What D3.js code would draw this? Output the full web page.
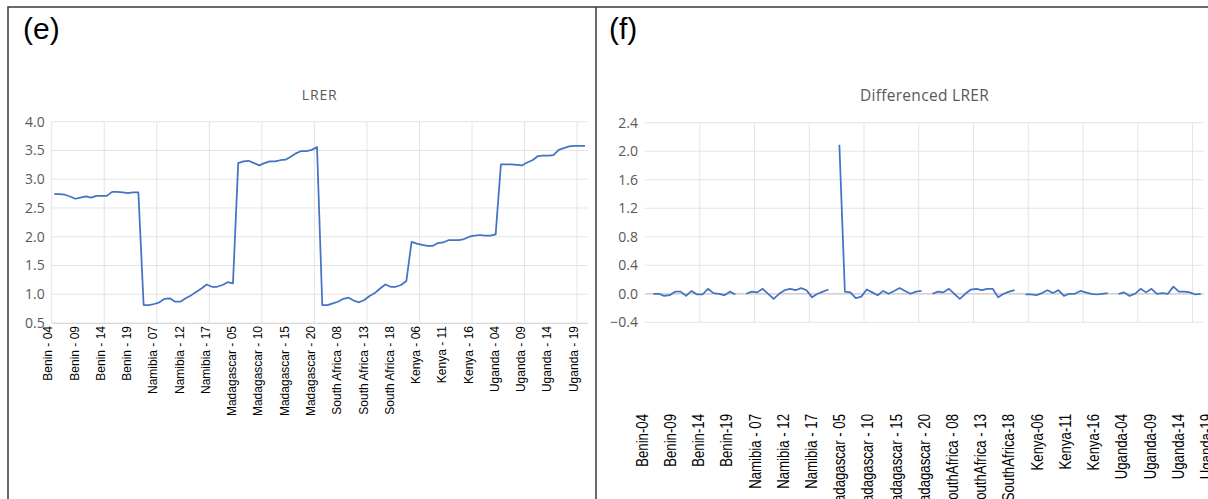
<!DOCTYPE html>
<html lang="en">
<head>
<meta charset="utf-8">
<title>LRER and Differenced LRER</title>
<script src="https://d3js.org/d3.v7.min.js"></script>
<style>
* { margin: 0; padding: 0; }
body { background: #fff; font-family: 'Open Sans', sans-serif; }
</style>
</head>
<body>
<script>
let w = 1208;
let h = 499;

// countries on the category axis and the years each one covers
let countries = ["Benin", "Namibia", "Madagascar", "South Africa", "Kenya", "Uganda"];
let firstYear = [2004, 2004, 2005, 2004, 2004, 2004];
let lastYear  = [2020, 2021, 2020, 2020, 2020, 2020];

// log real exchange rate, one value per year
let beninLRER      = [2.74, 2.74, 2.73, 2.70, 2.66, 2.68, 2.70, 2.68, 2.71, 2.71, 2.71, 2.78, 2.78, 2.77, 2.76, 2.77, 2.77];
let namibiaLRER    = [0.81, 0.81, 0.83, 0.86, 0.92, 0.93, 0.87, 0.87, 0.93, 0.98, 1.04, 1.10, 1.17, 1.13, 1.13, 1.16, 1.21, 1.19];
let madagascarLRER = [3.28, 3.31, 3.32, 3.28, 3.24, 3.28, 3.31, 3.31, 3.33, 3.34, 3.39, 3.45, 3.49, 3.49, 3.51, 3.56];
let southAfricaLRER = [0.81, 0.81, 0.84, 0.87, 0.92, 0.94, 0.89, 0.86, 0.90, 0.97, 1.02, 1.10, 1.17, 1.13, 1.13, 1.16, 1.23];
let kenyaLRER      = [1.91, 1.88, 1.86, 1.84, 1.84, 1.89, 1.90, 1.94, 1.94, 1.94, 1.96, 2.00, 2.02, 2.03, 2.02, 2.02, 2.04];
let ugandaLRER     = [3.26, 3.26, 3.26, 3.25, 3.24, 3.29, 3.33, 3.40, 3.41, 3.41, 3.42, 3.51, 3.54, 3.57, 3.58, 3.58, 3.58];

// differenced series (null = no value plotted)
let beninDiff      = [null, 0.00, 0.00, -0.03, -0.02, 0.03, 0.03, -0.03, 0.04, -0.01, -0.01, 0.07, 0.01, 0.00, -0.02, 0.03, -0.01];
let namibiaDiff    = [null, 0.00, 0.03, 0.02, 0.07, 0.00, -0.07, 0.00, 0.05, 0.07, 0.05, 0.08, 0.05, -0.05, 0.00, 0.03, 0.06, null];
let madagascarDiff = [2.09, 0.03, 0.02, -0.06, -0.04, 0.06, 0.02, -0.02, 0.04, 0.00, 0.04, 0.08, 0.04, 0.00, 0.03, 0.04];
let southAfricaDiff = [null, 0.00, 0.03, 0.02, 0.07, 0.00, -0.07, 0.00, 0.06, 0.07, 0.05, 0.07, 0.07, -0.05, 0.00, 0.03, 0.05];
let kenyaDiff      = [null, -0.01, -0.01, -0.02, 0.01, 0.05, 0.01, 0.05, -0.03, 0.00, 0.00, 0.04, 0.02, 0.00, -0.01, 0.00, 0.01];
let ugandaDiff     = [null, 0.00, 0.02, -0.03, 0.00, 0.07, 0.02, 0.07, 0.00, 0.01, 0.00, 0.10, 0.03, 0.03, 0.02, -0.01, 0.00];

// tick labels (every 5th category)
let lrerTickLabels = ["Benin - 04", "Benin - 09", "Benin - 14", "Benin - 19",
  "Namibia - 07", "Namibia - 12", "Namibia - 17",
  "Madagascar - 05", "Madagascar - 10", "Madagascar - 15", "Madagascar - 20",
  "South Africa - 08", "South Africa - 13", "South Africa - 18",
  "Kenya - 06", "Kenya - 11", "Kenya - 16",
  "Uganda - 04", "Uganda - 09", "Uganda - 14", "Uganda - 19"];
let diffTickLabels = ["Benin-04", "Benin-09", "Benin-14", "Benin-19",
  "Namibia - 07", "Namibia - 12", "Namibia - 17",
  "Madagascar - 05", "Madagascar - 10", "Madagascar - 15", "Madagascar - 20",
  "SouthAfrica - 08", "SouthAfrica - 13", "SouthAfrica-18",
  "Kenya-06", "Kenya-11", "Kenya-16",
  "Uganda-04", "Uganda-09", "Uganda-14", "Uganda-19"];
let lrerTicks = [0.5, 1.0, 1.5, 2.0, 2.5, 3.0, 3.5, 4.0];
let diffTicks = [-0.4, 0.0, 0.4, 0.8, 1.2, 1.6, 2.0, 2.4];

// build the category list and join the series onto it
let lrerByCountry = [beninLRER, namibiaLRER, madagascarLRER, southAfricaLRER, kenyaLRER, ugandaLRER];
let diffByCountry = [beninDiff, namibiaDiff, madagascarDiff, southAfricaDiff, kenyaDiff, ugandaDiff];
let categories = [];
let lrerData = [];
let diffData = [];
countries.forEach((c, ci) => {
  for (let yr = firstYear[ci]; yr <= lastYear[ci]; yr++) {
    let k = yr - firstYear[ci];
    let cat = c + "-" + yr;
    categories.push(cat);
    lrerData.push({cat: cat, v: lrerByCountry[ci][k]});
    diffData.push({cat: cat, v: diffByCountry[ci][k]});
  }
});
let tickCats = categories.filter((d, i) => i % 5 == 0);
let gridCats = categories.filter((d, i) => i % 10 == 0);

let svg = d3.select("body").append("svg")
  .attr("width", w)
  .attr("height", h);

// panel frame
svg.append("path")
  .attr("d", "M8," + h + "V7H" + w + "M596,7V" + h)
  .attr("fill", "none")
  .attr("stroke", "#3a3a3a")
  .attr("stroke-width", 1.5);

svg.append("text").text("(e)").attr("x", 23).attr("y", 39)
  .attr("font-family", "'Liberation Sans', Arial, sans-serif").attr("font-size", 30).attr("fill", "#000");
svg.append("text").text("(f)").attr("x", 609).attr("y", 39)
  .attr("font-family", "'Liberation Sans', Arial, sans-serif").attr("font-size", 30).attr("fill", "#000");

let lineColor = "#4472c4";
let gridColor = "#e4e4e4";

// ---------- (e) LRER ----------
let x1 = d3.scaleBand().domain(categories).range([51.7, 587.6]);
let y1 = d3.scaleLinear().domain([0.5, 4]).range([323, 121.7]);

svg.append("text").text("LRER")
  .attr("x", (x1.range()[0] + x1.range()[1]) / 2).attr("y", 100)
  .attr("text-anchor", "middle").attr("font-size", 14).attr("letter-spacing", 0.8)
  .attr("fill", "#595959");

let g1 = svg.append("g");
g1.selectAll(".hgrid").data(lrerTicks).enter().append("line")
  .attr("x1", x1.range()[0]).attr("x2", x1.range()[1])
  .attr("y1", d => y1(d)).attr("y2", d => y1(d))
  .attr("stroke", gridColor);
g1.selectAll(".vgrid").data(gridCats).enter().append("line")
  .attr("x1", d => x1(d)).attr("x2", d => x1(d))
  .attr("y1", y1(4)).attr("y2", y1(0.5))
  .attr("stroke", gridColor);

g1.append("g")
  .call(d3.axisLeft(y1).tickValues(lrerTicks).tickFormat(d3.format(".1f")).tickSize(0).tickPadding(7))
  .attr("transform", "translate(" + x1.range()[0] + ",0)")
  .call(g => g.select(".domain").remove())
  .call(g => g.selectAll("text").attr("font-family", "'Open Sans', sans-serif")
    .attr("font-size", 14).attr("fill", "#595959"));

g1.append("g")
  .attr("transform", "translate(0," + y1(0.5) + ")")
  .call(d3.axisBottom(x1).tickValues(tickCats).tickFormat((d, i) => lrerTickLabels[i]).tickSize(0))
  .call(g => g.select(".domain").attr("stroke", "#d9d9d9"))
  .call(g => g.selectAll("text")
    .attr("transform", "rotate(-90)")
    .attr("text-anchor", "end")
    .attr("x", -3).attr("y", -2).attr("dy", null)
    .attr("font-family", "'Liberation Sans', Arial, sans-serif")
    .attr("font-size", 12).attr("fill", "#000"));

let line1 = d3.line()
  .x(d => x1(d.cat) + x1.bandwidth() / 2)
  .y(d => y1(d.v));
g1.append("path").datum(lrerData)
  .attr("d", line1)
  .attr("fill", "none")
  .attr("stroke", lineColor)
  .attr("stroke-width", 1.75)
  .attr("stroke-linejoin", "round");

// ---------- (f) Differenced LRER ----------
let x2 = d3.scaleBand().domain(categories).range([645, 1203.5]);
let y2 = d3.scaleLinear().domain([-0.4, 2.4]).range([322.3, 122.7]);
// the category labels of this panel sit on their own spacing
let labelScale = d3.scaleLinear().domain([0, categories.length - 2]).range([641.7, 1206]);

svg.append("text").text("Differenced LRER")
  .attr("x", 924.5).attr("y", 101)
  .attr("text-anchor", "middle").attr("font-size", 15.5).attr("letter-spacing", 0.3)
  .attr("fill", "#595959");

let g2 = svg.append("g");
g2.selectAll(".hgrid").data(diffTicks).enter().append("line")
  .attr("x1", x2.range()[0]).attr("x2", x2.range()[1])
  .attr("y1", d => y2(d)).attr("y2", d => y2(d))
  .attr("stroke", d => d == 0 ? "#c4c4c4" : gridColor)
  .attr("stroke-width", d => d == 0 ? 1.3 : 1);
g2.selectAll(".vgrid").data(gridCats.slice(1)).enter().append("line")
  .attr("x1", d => x2(d)).attr("x2", d => x2(d))
  .attr("y1", y2(2.4)).attr("y2", y2(-0.4))
  .attr("stroke", gridColor);

g2.append("g")
  .call(d3.axisLeft(y2).tickValues(diffTicks).tickFormat(d3.format(".1f")).tickSize(0).tickPadding(7))
  .attr("transform", "translate(" + x2.range()[0] + ",0)")
  .call(g => g.select(".domain").remove())
  .call(g => g.selectAll("text").attr("font-family", "'Open Sans', sans-serif")
    .attr("font-size", 14).attr("fill", "#595959"));

// narrow, tall labels: squeeze the text along its own direction
g2.append("g")
  .attr("transform", "translate(0,414)")
  .call(d3.axisBottom(labelScale).tickValues(d3.range(0, categories.length - 1, 5))
    .tickFormat((d, i) => diffTickLabels[i]).tickSize(0))
  .call(g => g.select(".domain").remove())
  .call(g => g.selectAll("text")
    .attr("transform", "rotate(-90) scale(0.8,1)")
    .attr("text-anchor", "end")
    .attr("x", 0).attr("y", 5.5).attr("dy", null)
    .attr("font-family", "'Liberation Sans', Arial, sans-serif")
    .attr("font-size", 16.5).attr("fill", "#000"));

let line2 = d3.line()
  .defined(d => d.v != null)
  .x(d => x2(d.cat) + x2.bandwidth() / 2)
  .y(d => y2(d.v));
g2.append("path").datum(diffData)
  .attr("d", line2)
  .attr("fill", "none")
  .attr("stroke", lineColor)
  .attr("stroke-width", 1.75)
  .attr("stroke-linejoin", "round");
</script>
</body>
</html>
